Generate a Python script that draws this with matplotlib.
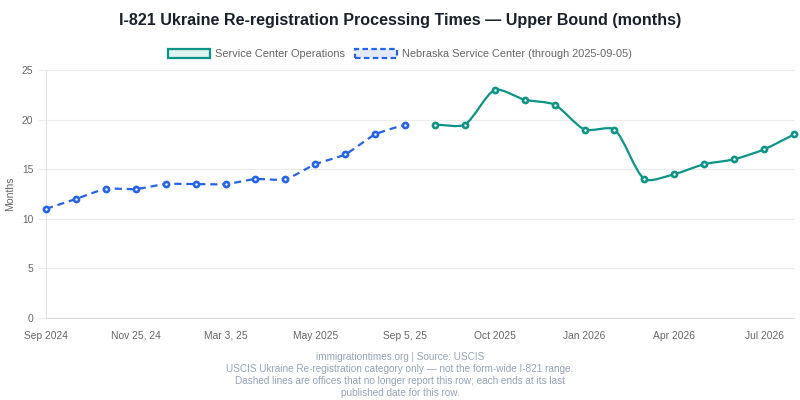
import matplotlib
matplotlib.use("Agg")
import matplotlib.pyplot as plt
import numpy as np
from matplotlib.path import Path
from matplotlib.patches import PathPatch, Patch

plt.rcParams['font.family'] = ['Liberation Sans', 'DejaVu Sans']

# ---- data ----
x_tick_labels = ["Sep 2024", "Nov 25, 24", "Mar 3, 25", "May 2025", "Sep 5, 25",
                 "Oct 2025", "Jan 2026", "Apr 2026", "Jul 2026"]
n_categories = 26
nebraska_idx = list(range(0, 13))
nebraska_vals = [11, 12, 13, 13, 13.5, 13.5, 13.5, 14, 14, 15.5, 16.5, 18.5, 19.5]
service_idx = list(range(13, 26))
service_vals = [19.5, 19.5, 23, 22, 21.5, 19, 19, 14, 14.5, 15.5, 16, 17, 18.5]

GREEN = "#0d9488"
BLUE = "#2563eb"
TENSION = 0.25

fig = plt.figure(figsize=(8, 4), dpi=100)
ax = fig.add_axes([46/800, 1-318/400, (794-46)/800, (318-70)/400])
ax.set_xlim(0, n_categories - 1)
ax.set_ylim(0, 25)


def spline_path(ax, xs, ys, t):
    pts = ax.transData.transform(np.column_stack([xs, ys]))
    n = len(pts)
    cps = []
    for i in range(n):
        cur = pts[i]
        prev = pts[i-1] if i > 0 else cur
        nxt = pts[i+1] if i < n-1 else cur
        d01 = np.hypot(*(cur-prev))
        d12 = np.hypot(*(nxt-cur))
        tot = d01 + d12
        s01 = d01/tot if tot else 0
        s12 = d12/tot if tot else 0
        cp1 = cur - t*s01*(nxt-prev)
        cp2 = cur + t*s12*(nxt-prev)
        cps.append((cp1, cp2))
    verts = [pts[0]]
    codes = [Path.MOVETO]
    for i in range(1, n):
        verts += [cps[i-1][1], cps[i][0], pts[i]]
        codes += [Path.CURVE4]*3
    inv = ax.transData.inverted()
    return Path(inv.transform(np.array(verts)), codes)


for xs, ys, col, ls in [(nebraska_idx, nebraska_vals, BLUE, (0, (3.2, 2.2))),
                        (service_idx, service_vals, GREEN, "-")]:
    p = spline_path(ax, xs, ys, TENSION)
    ax.add_patch(PathPatch(p, fill=False, edgecolor=col, lw=1.6, linestyle=ls,
                           clip_on=False, zorder=3))
    ax.plot(xs, ys, linestyle="none", marker="o", markersize=3.7, markeredgewidth=1.9,
            markeredgecolor=col, markerfacecolor="white", clip_on=False, zorder=4)

ax.set_xticks(range(0, n_categories, 3))
ax.set_xticklabels(x_tick_labels)
for lab in ax.get_xticklabels():
    lab.set_va("baseline")
ax.set_yticks([0, 5, 10, 15, 20, 25])
ax.tick_params(axis="x", length=0, pad=15, labelsize=7.4, labelcolor="#666666")
ax.tick_params(axis="y", length=6, color="#ebebeb", pad=3, labelsize=7.4, labelcolor="#666666")
ax.grid(axis="y", color="#ebebeb", lw=0.8)
ax.set_axisbelow(True)
for s in ["top", "right"]:
    ax.spines[s].set_visible(False)
ax.spines["left"].set_color("#e5e5e5")
ax.spines["bottom"].set_color("#d9d9d9")
ax.spines["left"].set_linewidth(0.8)
ax.spines["bottom"].set_linewidth(0.8)
ax.set_ylabel("Months", fontsize=7.6, color="#666666")
ax.yaxis.set_label_coords(-(46-15)/748, 0.5)

fig.text(0.5, 1-20/400, "I-821 Ukraine Re-registration Processing Times \u2014 Upper Bound (months)",
         ha="center", va="center", fontsize=11.6, fontweight="bold", color="#1a202c")

handles = [Patch(facecolor="#e1f3f1", edgecolor=GREEN, lw=1.6, label="Service Center Operations"),
           Patch(facecolor="#e3eafc", edgecolor=BLUE, lw=1.6, linestyle=(0, (2.5, 1.5)),
                 label="Nebraska Service Center (through 2025-09-05)")]
fig.legend(handles=handles, loc="center", bbox_to_anchor=(0.5, 1-54/400), ncol=2, frameon=False,
           fontsize=7.9, labelcolor="#666666", handlelength=3.8, handleheight=1.0,
           columnspacing=0.9, handletextpad=0.45)

footer = ["immigrationtimes.org | Source: USCIS",
          "USCIS Ukraine Re-registration category only \u2014 not the form-wide I-821 range.",
          "Dashed lines are offices that no longer report this row; each ends at its last",
          "published date for this row."]
for i, line in enumerate(footer):
    fig.text(0.5, 1-(357+12*i)/400, line, ha="center", va="center", fontsize=7.2, color="#94a3b8")

fig.savefig("out.png", dpi=100)
